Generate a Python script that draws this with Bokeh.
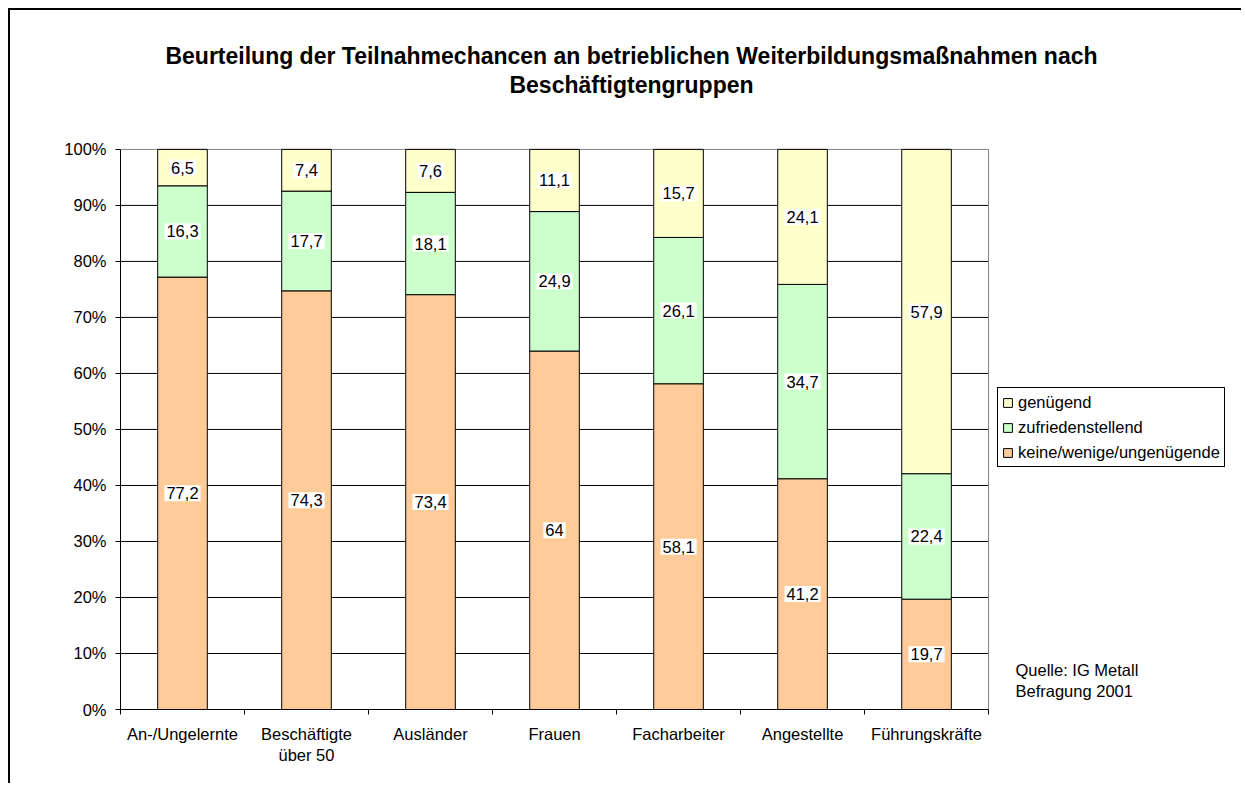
from bokeh.plotting import figure
from bokeh.models import (ColumnDataSource, Range1d, FixedTicker, Legend, LegendItem,
                          Label, PrintfTickFormatter)
from bokeh.core.properties import value
from bokeh.embed import file_html
from bokeh.resources import INLINE

# ---- data ----
categories = ["An-/Ungelernte", "Beschäftigte\nüber 50", "Ausländer", "Frauen",
              "Facharbeiter", "Angestellte", "Führungskräfte"]
keine = [77.2, 74.3, 73.4, 64.0, 58.1, 41.2, 19.7]
zufrieden = [16.3, 17.7, 18.1, 24.9, 26.1, 34.7, 22.4]
genuegend = [6.5, 7.4, 7.6, 11.1, 15.7, 24.1, 57.9]
series_names = ["keine/wenige/ungenügende", "zufriedenstellend", "genügend"]
series_colors = ["#FFCC99", "#CCFFCC", "#FFFFCC"]
y_ticks = [0, 10, 20, 30, 40, 50, 60, 70, 80, 90, 100]
title_lines = ["Beurteilung der Teilnahmechancen an betrieblichen Weiterbildungsmaßnahmen nach",
               "Beschäftigtengruppen"]
source_lines = ["Quelle: IG Metall", "Befragung 2001"]

FONT = "Liberation Sans"
FS = "16.5px"

n = len(categories)
xs = [i + 0.5 for i in range(n)]
totals = [a + b + c for a, b, c in zip(keine, zufrieden, genuegend)]
k_pct = [a / t * 100 for a, t in zip(keine, totals)]
z_pct = [b / t * 100 for b, t in zip(zufrieden, totals)]
g_pct = [c / t * 100 for c, t in zip(genuegend, totals)]

src = ColumnDataSource(dict(x=xs, keine=k_pct, zufrieden=z_pct, genuegend=g_pct))

# the frame extends past the plot area so that title, legend and note are not clipped
X_END = 9.056
Y_END = 124.8

p = figure(width=1233, height=775, output_backend="svg", toolbar_location=None,
           x_range=Range1d(0, X_END), y_range=Range1d(0, Y_END),
           min_border_left=110, min_border_right=0, min_border_top=0,
           min_border_bottom=76)
p.styles = {"margin-left": "8px", "margin-top": "8px",
            "border-left": "2px solid black", "border-top": "2px solid black"}
p.outline_line_color = None
p.background_fill_color = "white"
p.border_fill_color = "white"
p.xgrid.visible = False
p.ygrid.visible = False

# gridlines across the plot area only
grid_y = y_ticks[1:-1]
p.segment(x0=[0] * len(grid_y), x1=[n] * len(grid_y), y0=grid_y, y1=grid_y,
          line_color="black", line_width=1)
# plot-area border (top and right), gray
p.segment(x0=[0, n], x1=[n, n], y0=[y_ticks[-1], 0], y1=[y_ticks[-1], y_ticks[-1]],
          line_color="#808080", line_width=1)

renderers = p.vbar_stack(["keine", "zufrieden", "genuegend"], x="x", width=0.4, source=src,
                         fill_color=series_colors, line_color="black", line_width=1)

# value labels at segment centers
def de(v):
    return f"{v:g}".replace(".", ",")

lx, ly, lt = [], [], []
for i in range(n):
    base = 0.0
    for vals, pcts in ((keine, k_pct), (zufrieden, z_pct), (genuegend, g_pct)):
        lx.append(xs[i])
        ly.append(base + pcts[i] / 2)
        lt.append(de(vals[i]))
        base += pcts[i]
lsrc = ColumnDataSource(dict(x=lx, y=ly, t=lt))
p.text(x="x", y="y", text="t", source=lsrc, text_align="center", text_baseline="middle",
       text_font=value(FONT), text_font_size=FS, text_color="black",
       background_fill_color="white", padding=2)

# axes
yax = p.yaxis[0]
yax.bounds = (y_ticks[0], y_ticks[-1])
yax.ticker = FixedTicker(ticks=y_ticks)
yax.formatter = PrintfTickFormatter(format="%d%%")
yax.major_tick_out = 5
yax.major_tick_in = 0
yax.minor_tick_line_color = None
yax.axis_line_color = "black"
yax.major_tick_line_color = "black"
yax.major_label_text_font = FONT
yax.major_label_text_font_size = FS
yax.major_label_text_color = "black"
yax.major_label_standoff = 9

xax = p.xaxis[0]
xax.bounds = (0, n)
xax.ticker = FixedTicker(ticks=xs, minor_ticks=list(range(n + 1)))
xax.major_label_overrides = {x: c for x, c in zip(xs, categories)}
xax.major_tick_line_color = None
xax.major_tick_out = 0
xax.major_tick_in = 0
xax.minor_tick_line_color = "black"
xax.minor_tick_out = 5
xax.minor_tick_in = 0
xax.axis_line_color = "black"
xax.major_label_text_font = FONT
xax.major_label_text_font_size = FS
xax.major_label_text_color = "black"
xax.major_label_standoff = 10

# legend (reverse order like the reference)
items = [LegendItem(label=series_names[i], renderers=[renderers[i]]) for i in (2, 1, 0)]
legend = Legend(items=items, location=(877, 242), margin=0, padding=4, spacing=5,
                glyph_width=11, glyph_height=11, label_standoff=5, label_height=20,
                label_text_font=FONT, label_text_font_size=FS, label_text_color="black",
                border_line_color="black", border_line_width=1, border_line_alpha=1,
                background_fill_color="white", background_fill_alpha=1)
p.add_layout(legend)

# title
for txt, yy in zip(title_lines, (654, 625)):
    p.add_layout(Label(x=511, y=yy, x_units="screen", y_units="screen", text=txt,
                       text_align="center", text_baseline="alphabetic",
                       text_font=FONT, text_font_size="23px", text_font_style="bold",
                       text_color="black"))

# source note
for txt, yy in zip(source_lines, (40, 19)):
    p.add_layout(Label(x=895, y=yy, x_units="screen", y_units="screen", text=txt,
                       text_align="left", text_baseline="alphabetic",
                       text_font=FONT, text_font_size=FS, text_color="black"))

open("out.html", "w").write(file_html(p, INLINE))
